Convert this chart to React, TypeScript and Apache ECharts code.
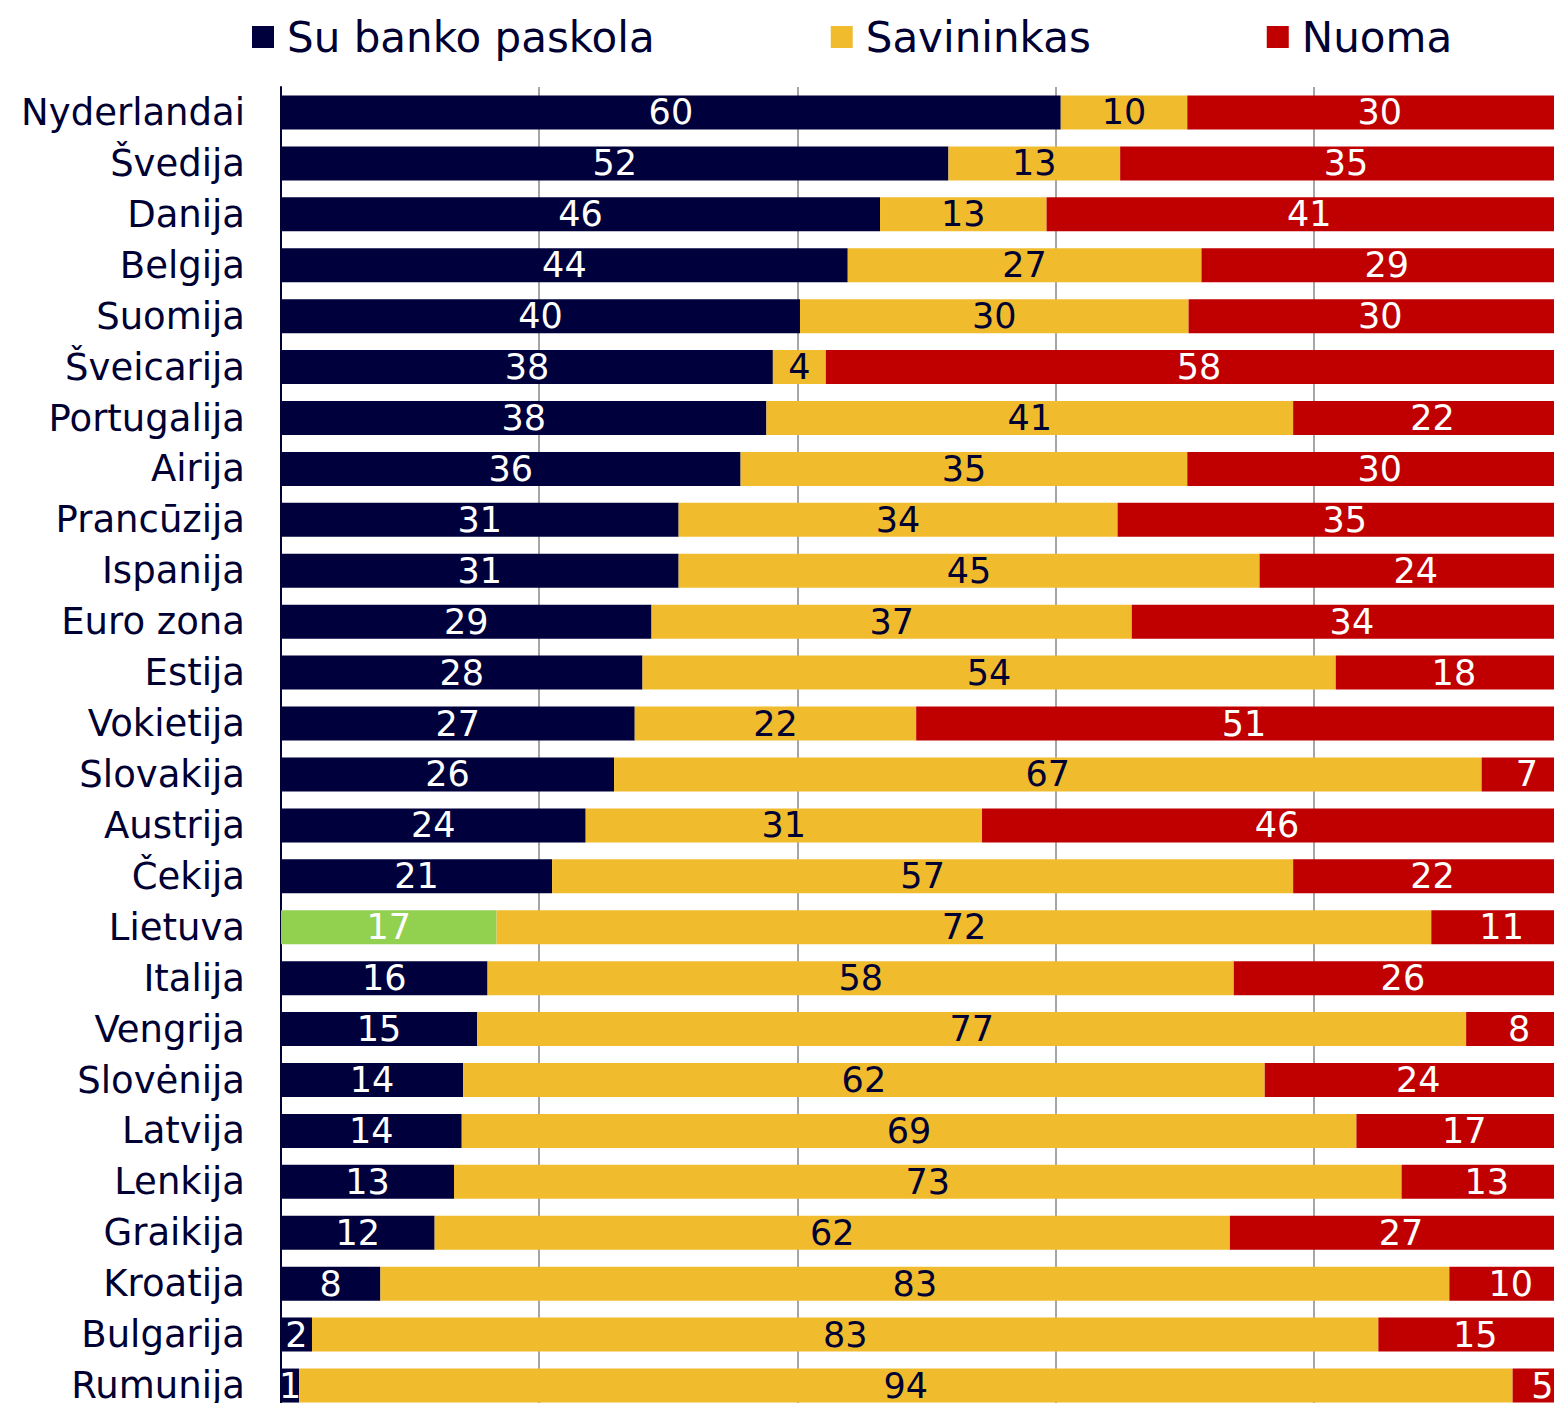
import React, { useEffect, useRef } from "react";
import * as echarts from "echarts";

const countries = [
  "Nyderlandai", "Švedija", "Danija", "Belgija", "Suomija", "Šveicarija",
  "Portugalija", "Airija", "Prancūzija", "Ispanija", "Euro zona", "Estija",
  "Vokietija", "Slovakija", "Austrija", "Čekija", "Lietuva", "Italija",
  "Vengrija", "Slovėnija", "Latvija", "Lenkija", "Graikija", "Kroatija",
  "Bulgarija", "Rumunija",
];

const mortgage = [
  60.4, 51.7, 46.4, 43.9, 40.2, 38.1, 37.6, 35.6, 30.8, 30.8, 28.7, 28.0,
  27.4, 25.8, 23.6, 21.0, 16.7, 16.0, 15.2, 14.1, 14.0, 13.4, 11.9, 7.7,
  2.4, 1.4,
];

const owner = [
  9.8, 13.3, 12.9, 27.4, 30.1, 4.1, 40.8, 34.6, 34.0, 45.0, 37.2, 53.7,
  21.8, 67.2, 30.7, 57.4, 72.4, 57.8, 76.6, 62.1, 69.3, 73.4, 61.6, 82.8,
  82.6, 94.0,
];

const rent = [
  29.8, 35.0, 40.7, 28.7, 29.7, 57.8, 21.6, 29.9, 35.2, 24.2, 34.1, 18.3,
  50.8, 7.0, 45.7, 21.6, 10.9, 26.2, 8.2, 23.8, 16.7, 13.2, 26.6, 9.5,
  15.0, 4.6,
];

const seriesNames = ["Su banko paskola", "Savininkas", "Nuoma"];
const highlightCountry = "Lietuva";

const NAVY = "#00003c";
const YELLOW = "#f0bc2e";
const RED = "#c00000";
const GREEN = "#92d050";
const TEXT = "#000033";
const FONT = "DejaVu Sans";

export default function App() {
  const ref = useRef<HTMLDivElement>(null);

  useEffect(() => {
    if (!ref.current) return;
    const chart = echarts.init(ref.current, undefined, { renderer: "svg" });
    const fmt = (p: any) => String(Math.round(p.value));
    const labelBase = {
      show: true,
      position: "inside",
      fontFamily: FONT,
      fontSize: 35,
      formatter: fmt,
    };
    chart.setOption({
      animation: false,
      backgroundColor: "#ffffff",
      legend: {
        data: seriesNames,
        left: 247,
        top: 10,
        icon: "rect",
        itemWidth: 22,
        itemHeight: 22,
        itemGap: 176,
        selectedMode: false,
        textStyle: {
          fontFamily: FONT,
          fontSize: 42,
          color: TEXT,
          lineHeight: 44,
          padding: [0, 0, 0, 8],
        },
      },
      grid: { left: 281, top: 87, width: 1291, height: 1324, containLabel: false },
      xAxis: {
        type: "value",
        min: 0,
        max: 100,
        interval: 20,
        axisLabel: { show: false },
        axisLine: { show: false },
        axisTick: { show: false },
        splitLine: { show: true, lineStyle: { color: "#a6a6a6", width: 2 } },
      },
      yAxis: {
        type: "category",
        inverse: true,
        data: countries,
        axisLine: { show: true, lineStyle: { color: TEXT, width: 2 } },
        axisTick: { show: false },
        axisLabel: { fontFamily: FONT, fontSize: 37, color: TEXT, margin: 36 },
      },
      series: [
        {
          name: seriesNames[0],
          type: "bar",
          stack: "t",
          barWidth: 34,
          itemStyle: { color: NAVY },
          label: { ...labelBase, color: "#ffffff" },
          data: mortgage.map((v, i) =>
            countries[i] === highlightCountry
              ? { value: v, itemStyle: { color: GREEN } }
              : v
          ),
        },
        {
          name: seriesNames[1],
          type: "bar",
          stack: "t",
          barWidth: 34,
          itemStyle: { color: YELLOW },
          label: { ...labelBase, color: TEXT },
          data: owner,
        },
        {
          name: seriesNames[2],
          type: "bar",
          stack: "t",
          barWidth: 34,
          itemStyle: { color: RED },
          label: { ...labelBase, color: "#ffffff" },
          data: rent,
        },
      ],
    });
    return () => chart.dispose();
  }, []);

  return (
    <div
      style={{
        position: "fixed",
        left: 0,
        top: 0,
        width: 1554,
        height: 1403,
        overflow: "hidden",
        background: "#ffffff",
      }}
    >
      <div ref={ref} style={{ width: 1600, height: 1440 }} />
    </div>
  );
}
